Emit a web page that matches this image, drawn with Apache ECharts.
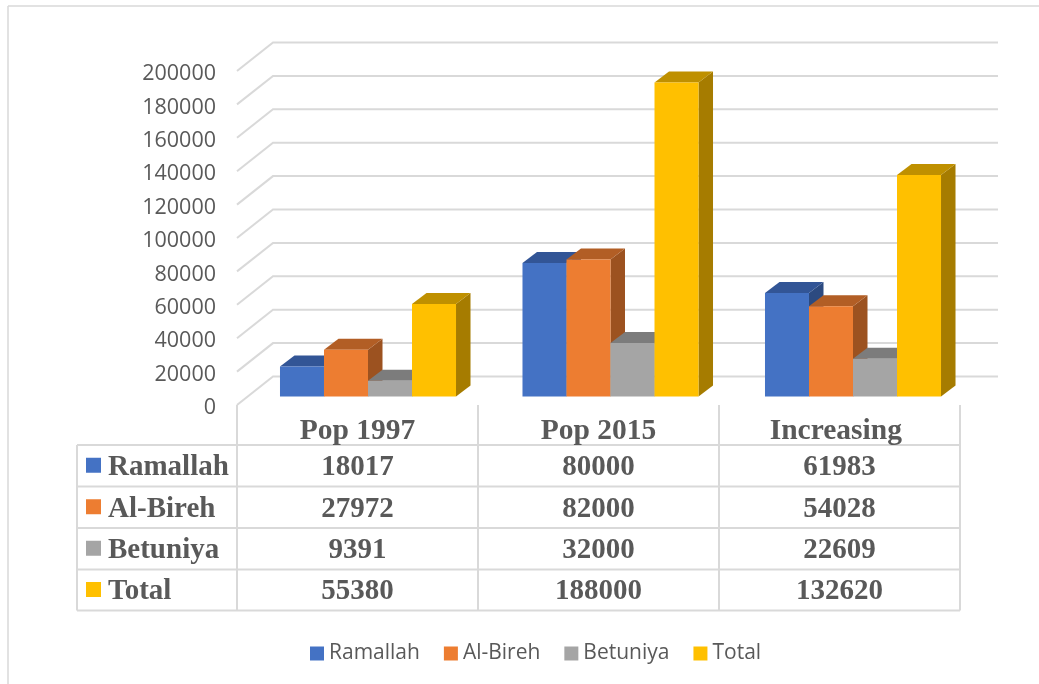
<!DOCTYPE html>
<html>
<head>
<meta charset="utf-8">
<style>
  body { margin: 0; background: #fff; }
  #main { width: 1039px; height: 684px; }
</style>
</head>
<body>
<div id="main"></div>
<script src="https://cdn.jsdelivr.net/npm/echarts@6/dist/echarts.min.js"></script>
<script>
const categories = ['Pop 1997', 'Pop 2015', 'Increasing']
const seriesNames = ['Ramallah', 'Al-Bireh', 'Betuniya', 'Total']
const ramallah = [18017, 80000, 61983]
const alBireh = [27972, 82000, 54028]
const betuniya = [9391, 32000, 22609]
const total = [55380, 188000, 132620]
const yTicks = [0, 20000, 40000, 60000, 80000, 100000, 120000, 140000, 160000, 180000, 200000]

const seriesValues = [ramallah, alBireh, betuniya, total]
const frontColors = ['#4472c4', '#ed7d31', '#a5a5a5', '#ffc000']
const topColors = ['#325596', '#b25e25', '#7c7c7c', '#bf9000']
const sideColors = ['#2c4a80', '#9c5220', '#6c6c6c', '#a67c00']

const gridColor = '#d9d9d9'
const textColor = '#595959'
const serif = '"Liberation Serif", serif'
const sans = '"Open Sans", sans-serif'

// table layout
const tableLeft = 77
const colX = [237, 478, 719, 960]
const rowY = [445, 486.5, 528, 569.5, 610.5]
const tableTop = 405

function line(x1, y1, x2, y2, width) {
  return {
    type: 'line',
    silent: true,
    shape: { x1, y1, x2, y2 },
    style: { stroke: gridColor, lineWidth: width || 2 }
  }
}

function label(text, x, y, align) {
  return {
    type: 'text',
    silent: true,
    x,
    y,
    style: {
      text,
      fill: textColor,
      font: 'bold 29px ' + serif,
      align: align || 'center',
      verticalAlign: 'middle'
    }
  }
}

function buildTable() {
  let items = []
  // chart frame, only left and top are visible
  items.push(line(8, 6, 1039, 6, 1.5))
  items.push(line(8, 6, 8, 684, 1.5))
  colX.forEach(x => items.push(line(x, tableTop, x, rowY[4])))
  rowY.forEach(y => items.push(line(tableLeft, y, colX[3], y)))
  items.push(line(tableLeft, rowY[0], tableLeft, rowY[4]))
  seriesNames.forEach((name, r) => {
    let cy = (rowY[r] + rowY[r + 1]) / 2
    items.push({
      type: 'rect',
      silent: true,
      shape: { x: 86, y: cy - 8, width: 15, height: 15 },
      style: { fill: frontColors[r] }
    })
    items.push(label(name, 108, cy + 2, 'left'))
    seriesValues[r].forEach((v, c) => {
      items.push(label(String(v), (colX[c] + colX[c + 1]) / 2, cy + 2))
    })
  })
  return items
}

// back wall and side wall gridlines
function renderWall(params, api) {
  let band = api.size([1, 0])[0]
  let p = api.coord([0, api.value(0)])
  let x0 = p[0] - band / 2
  let x1 = x0 + 36
  let y1 = p[1] - 28.5
  return {
    type: 'polyline',
    shape: { points: [[x0, p[1]], [x1, y1], [x0 + band * 3 + 38, y1]] },
    style: { stroke: gridColor, lineWidth: 2, fill: null }
  }
}

function makeBarRender(s) {
  return function (params, api) {
    let i = api.value(0)
    let band = api.size([1, 0])[0]
    let w = band * 0.1826
    let cx = api.coord([i, 0])[0]
    // bar groups sit a little wider apart than the table columns
    let x = cx + 10.5 + i * 1.5 - 2 * w + s * w
    let bottom = api.coord([i, 0])[1] - 8.5
    let top = api.coord([i, api.value(1)])[1] - 8.5
    let dx = 14.5
    let dy = -11
    return {
      type: 'group',
      children: [
        {
          type: 'polygon',
          shape: { points: [[x + w, top], [x + w + dx, top + dy], [x + w + dx, bottom + dy], [x + w, bottom]] },
          style: { fill: sideColors[s] }
        },
        {
          type: 'polygon',
          shape: { points: [[x, top], [x + dx, top + dy], [x + w + dx, top + dy], [x + w, top]] },
          style: { fill: topColors[s] }
        },
        {
          type: 'rect',
          shape: { x, y: top, width: w, height: bottom - top },
          style: { fill: frontColors[s] }
        }
      ]
    }
  }
}

const chart = echarts.init(document.getElementById('main'))
chart.setOption({
  animation: false,
  backgroundColor: '#fff',
  legend: {
    data: seriesNames,
    left: 305,
    top: 638,
    icon: 'rect',
    itemWidth: 14,
    itemHeight: 14,
    itemGap: 24,
    selectedMode: false,
    textStyle: { color: textColor, fontFamily: sans, fontSize: 21 }
  },
  grid: { left: 237, top: 71, width: 723, height: 334 },
  xAxis: {
    type: 'category',
    data: categories,
    axisLine: { show: false },
    axisTick: { show: false },
    axisLabel: {
      color: textColor,
      fontFamily: serif,
      fontWeight: 'bold',
      fontSize: 29.5,
      margin: 11,
      formatter: v => (v === 'Increasing' ? v + ' ' : v)
    }
  },
  yAxis: {
    type: 'value',
    min: 0,
    max: 200000,
    interval: 20000,
    splitLine: { show: false },
    axisLine: { show: false },
    axisTick: { show: false },
    axisLabel: {
      margin: 21,
      formatter: v => '{t|' + v + '}',
      rich: {
        t: {
          color: textColor,
          fontFamily: sans,
          fontSize: 21.5,
          padding: [6, 0, 0, 0]
        }
      }
    }
  },
  graphic: { elements: buildTable() },
  series: [
    {
      name: 'wall',
      type: 'custom',
      silent: true,
      clip: false,
      renderItem: renderWall,
      encode: { y: 0 },
      data: yTicks.map(v => [v])
    },
    ...seriesNames.map((name, s) => ({
      name,
      type: 'custom',
      silent: true,
      clip: false,
      itemStyle: { color: frontColors[s] },
      renderItem: makeBarRender(s),
      encode: { x: 0, y: 1 },
      data: seriesValues[s].map((v, i) => [i, v])
    }))
  ]
})
</script>
</body>
</html>
